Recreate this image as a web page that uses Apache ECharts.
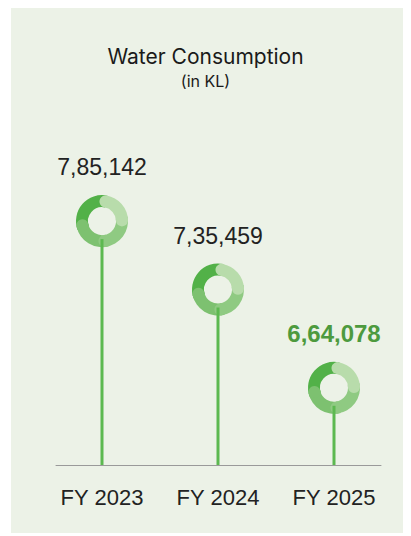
<!DOCTYPE html>
<html>
<head>
<meta charset="utf-8">
<script src="https://cdn.jsdelivr.net/npm/echarts@6/dist/echarts.min.js"></script>
<style>
  html, body { margin: 0; padding: 0; background: #ffffff; }
  #chart { width: 411px; height: 536px; }
</style>
</head>
<body>
<div id="chart"></div>
<script>
// Fiscal years and annual water consumption (kilolitres)
const years = ['FY 2023', 'FY 2024', 'FY 2025'];
const consumption = [785142, 735459, 664078];
const highlightYear = 'FY 2025';

// Value range of the lollipop scale
const yMin = 608000;
const yMax = 900000;

// Indian digit grouping: 7,85,142
function formatIndian(n) {
  const s = String(Math.round(n));
  if (s.length <= 3) return s;
  const last3 = s.slice(-3);
  let rest = s.slice(0, -3);
  const parts = [];
  while (rest.length > 2) {
    parts.unshift(rest.slice(-2));
    rest = rest.slice(0, -2);
  }
  if (rest.length) parts.unshift(rest);
  return parts.join(',') + ',' + last3;
}

// Ring segments (clockwise degrees from 12 o'clock), drawn in order
const ringSegments = [
  { from: 250, to: 372, color: '#52b148', caps: [] },
  { from: 165, to: 258, color: '#7dc170', caps: ['end'] },
  { from: 80,  to: 173, color: '#8fca82', caps: ['end'] },
  { from: 10,  to: 88,  color: '#b8dcab', caps: ['start', 'end'] }
];

const R_OUT = 26, R_IN = 14;
const R_MID = (R_OUT + R_IN) / 2, CAP = (R_OUT - R_IN) / 2;

function toRad(clockDeg) { return (clockDeg - 90) * Math.PI / 180; }

function renderLollipop(params, api) {
  const idx = api.value(0);
  const val = api.value(1);
  const top = api.coord([idx, val]);
  const base = api.coord([idx, yMin]);
  const cx = top[0], cy = top[1];
  const children = [];

  ringSegments.forEach(seg => {
    children.push({
      type: 'sector',
      shape: { cx: cx, cy: cy, r0: R_IN, r: R_OUT,
               startAngle: toRad(seg.from), endAngle: toRad(seg.to), clockwise: true },
      style: { fill: seg.color }
    });
    seg.caps.forEach(c => {
      const a = toRad(c === 'start' ? seg.from : seg.to);
      children.push({
        type: 'circle',
        shape: { cx: cx + R_MID * Math.cos(a), cy: cy + R_MID * Math.sin(a), r: CAP },
        style: { fill: seg.color }
      });
    });
  });

  // stem rises from the axis into the lower part of the ring
  children.push({
    type: 'line',
    shape: { x1: cx, y1: cy + 18, x2: base[0], y2: base[1] },
    style: { stroke: '#5cb950', lineWidth: 3 }
  });

  const hl = years[idx] === highlightYear;
  children.push({
    type: 'text',
    x: cx, y: cy - 54,
    style: {
      text: formatIndian(val),
      align: 'center', verticalAlign: 'middle',
      fontFamily: 'Liberation Sans, Arial, sans-serif',
      fontSize: hl ? 24 : 23,
      fontWeight: hl ? 'bold' : 'normal',
      fill: hl ? '#4d9a3e' : '#222222'
    }
  });

  return { type: 'group', children: children };
}

const chart = echarts.init(document.getElementById('chart'), null, { renderer: 'svg' });

chart.setOption({
  animation: false,
  backgroundColor: 'transparent',
  graphic: [{
    type: 'rect', left: 11, top: 8, z: -10,
    shape: { width: 392, height: 525 },
    style: { fill: '#ecf2e7' }
  }],
  title: {
    text: 'Water Consumption',
    subtext: '(in KL)',
    left: 'center',
    top: 41,
    itemGap: 6,
    textStyle: { fontFamily: 'Inter, sans-serif', fontSize: 21, fontWeight: 'normal', color: '#1a1a1a' },
    subtextStyle: { fontFamily: 'Inter, sans-serif', fontSize: 16, color: '#1a1a1a' }
  },
  grid: [
    { left: 44, right: 19, top: 63, bottom: 71 },
    { left: 56, right: 30, top: 63, bottom: 71 }
  ],
  xAxis: [
    {
      type: 'category', gridIndex: 0, data: years,
      axisLine: { show: false }, axisTick: { show: false },
      axisLabel: { margin: 21, fontFamily: 'Liberation Sans, Arial, sans-serif', fontSize: 22, color: '#222222' }
    },
    {
      type: 'category', gridIndex: 1, data: years,
      axisLine: { show: true, lineStyle: { color: '#9a9a9a', width: 1 } },
      axisTick: { show: false }, axisLabel: { show: false }
    }
  ],
  yAxis: [
    { type: 'value', gridIndex: 0, min: yMin, max: yMax, show: false, splitLine: { show: false } },
    { type: 'value', gridIndex: 1, min: yMin, max: yMax, show: false, splitLine: { show: false } }
  ],
  series: [{
    type: 'custom',
    xAxisIndex: 0, yAxisIndex: 0,
    renderItem: renderLollipop,
    encode: { x: 0, y: 1 },
    data: years.map((y, i) => [i, consumption[i]]),
    z: 5
  }]
});
</script>
</body>
</html>
